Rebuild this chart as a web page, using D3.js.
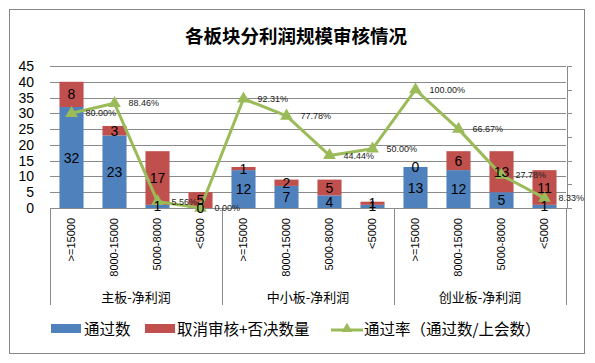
<!DOCTYPE html>
<html><head><meta charset="utf-8">
<script src="https://cdn.jsdelivr.net/npm/d3@7"></script>
<style>
html,body{margin:0;padding:0;background:#fff;}
svg{display:block;}
</style></head>
<body>
<svg id="chart" width="595" height="363"></svg>
<script>
const title = "各板块分利润规模审核情况";
const groups = ["主板-净利润", "中小板-净利润", "创业板-净利润"];
const subCategories = [">=15000", "8000-15000", "5000-8000", "<5000"];
const passed = [32, 23, 1, 0, 12, 7, 4, 1, 13, 12, 5, 1];
const rejected = [8, 3, 17, 5, 1, 2, 5, 1, 0, 6, 13, 11];
const passRate = [0.8, 0.8846, 0.0556, 0, 0.9231, 0.7778, 0.4444, 0.5, 1, 0.6667, 0.2778, 0.0833];
const leftTicks = [0, 5, 10, 15, 20, 25, 30, 35, 40, 45];
const rightTicks = [0, 0.2, 0.4, 0.6, 0.8, 1.0, 1.2];
const legendLabels = ["通过数", "取消审核+否决数量", "通过率（通过数/上会数）"];

const BLUE = "#4F81BD", RED = "#C0504D", GREEN = "#9BBB59", GRID = "#8a8a8a";
const NUM_FONT = "'Liberation Sans', Arial, sans-serif";
const CJK_FONT = "'Noto Sans CJK SC', 'Noto Sans', sans-serif";

const svg = d3.select("#chart");
svg.append("rect").attr("x", 9.5).attr("y", 9.5).attr("width", 575).attr("height", 344)
  .attr("fill", "#fff").attr("stroke", "#868686").attr("stroke-width", 1);

const keys = groups.flatMap((g, gi) => subCategories.map((s, si) => gi * subCategories.length + si));
const x = d3.scaleBand().domain(keys).range([50, 566]).paddingInner(0.44).paddingOuter(0.22);
const y = d3.scaleLinear().domain([0, 45]).range([208, 66]);
const y2 = d3.scaleLinear().domain([0, 1.2]).range([208, 66]);

// gridlines
const grid = svg.append("g").attr("transform", "translate(50,0)")
  .call(d3.axisLeft(y).tickValues(leftTicks.slice(1)).tickSize(-516).tickFormat(""));
grid.select(".domain").remove();
grid.selectAll("line").attr("stroke", GRID).attr("shape-rendering", "crispEdges");

// left tick labels
const la = svg.append("g").attr("transform", "translate(50,0)")
  .call(d3.axisLeft(y).tickValues(leftTicks).tickSize(0).tickPadding(16));
la.select(".domain").remove();
la.selectAll("text").attr("font-family", NUM_FONT).attr("font-size", 14).attr("fill", "#000");

// bars
const data = keys.map(k => ({k, p: passed[k], r: rejected[k], rate: passRate[k]}));
const bars = svg.append("g");
bars.selectAll(".pb").data(data).join("rect")
  .attr("x", d => x(d.k)).attr("width", x.bandwidth())
  .attr("y", d => y(d.p)).attr("height", d => y(0) - y(d.p)).attr("fill", BLUE);
bars.selectAll(".rb").data(data).join("rect")
  .attr("x", d => x(d.k)).attr("width", x.bandwidth())
  .attr("y", d => y(d.p + d.r)).attr("height", d => y(d.p) - y(d.p + d.r)).attr("fill", RED);

// x axis line
svg.append("line").attr("x1", 50).attr("x2", 571).attr("y1", 208.5).attr("y2", 208.5)
  .attr("stroke", GRID);

// right axis
const ra = svg.append("g").attr("transform", "translate(566.5,0)")
  .call(d3.axisRight(y2).tickValues(rightTicks).tickSize(5).tickSizeOuter(0).tickFormat(""));
ra.selectAll("line, path").attr("stroke", GRID).attr("shape-rendering", "crispEdges");

// group separators
const step = x.step();
for (let i = 0; i <= groups.length; i++) {
  const xx = Math.round(x.range()[0] + i * subCategories.length * step) + 0.5;
  svg.append("line").attr("x1", xx).attr("x2", xx).attr("y1", 208).attr("y2", 305)
    .attr("stroke", GRID);
}

// sub-category labels
svg.append("g").selectAll("text").data(data).join("text")
  .attr("transform", d => `translate(${x(d.k) + x.bandwidth() / 2},218) rotate(-90)`)
  .attr("text-anchor", "end").attr("dy", "0.35em")
  .attr("font-family", NUM_FONT).attr("font-size", 11).attr("fill", "#000")
  .text(d => subCategories[d.k % subCategories.length]);

// group labels
svg.append("g").selectAll("text").data(groups).join("text")
  .attr("x", (g, i) => x.range()[0] + (i + 0.5) * subCategories.length * step)
  .attr("y", 302).attr("text-anchor", "middle")
  .attr("font-family", CJK_FONT).attr("font-size", 13).attr("fill", "#000")
  .text(g => g);

// line
const line = d3.line().x(d => x(d.k) + x.bandwidth() / 2).y(d => y2(d.rate));
svg.append("path").datum(data).attr("d", line).attr("fill", "none")
  .attr("stroke", GREEN).attr("stroke-width", 3).attr("stroke-linejoin", "round");
const tri = d3.symbol().type(d3.symbolTriangle).size(70);
svg.append("g").selectAll("path").data(data).join("path")
  .attr("d", tri).attr("fill", GREEN)
  .attr("transform", d => `translate(${x(d.k) + x.bandwidth() / 2},${y2(d.rate)})`);

// bar value labels
const lab = svg.append("g").attr("font-family", NUM_FONT).attr("font-size", 14)
  .attr("fill", "#000").attr("text-anchor", "middle");
lab.selectAll(".pl").data(data).join("text")
  .attr("x", d => x(d.k) + x.bandwidth() / 2).attr("y", d => (y(0) + y(d.p)) / 2)
  .attr("dy", "0.36em").text(d => d.p);
lab.selectAll(".rl").data(data).join("text")
  .attr("x", d => x(d.k) + x.bandwidth() / 2).attr("y", d => (y(d.p) + y(d.p + d.r)) / 2)
  .attr("dy", "0.36em").text(d => d.r);

// rate labels
const fmt = d3.format(".2%");
svg.append("g").selectAll("text").data(data).join("text")
  .attr("x", d => x(d.k) + x.bandwidth() / 2 + 14).attr("y", d => y2(d.rate))
  .attr("dy", "0.35em").attr("font-family", NUM_FONT).attr("font-size", 9).attr("fill", "#222")
  .text(d => fmt(d.rate));

// title
svg.append("text").attr("x", 296).attr("y", 43).attr("text-anchor", "middle")
  .attr("font-family", CJK_FONT).attr("font-weight", 700).attr("font-size", 18.5)
  .attr("fill", "#000").text(title);

// legend
const lg = svg.append("g").attr("font-family", CJK_FONT).attr("font-size", 15.5).attr("fill", "#000");
lg.append("rect").attr("x", 51).attr("y", 324).attr("width", 30).attr("height", 9).attr("fill", BLUE);
lg.append("text").attr("x", 84).attr("y", 329).attr("dy", "0.36em").text(legendLabels[0]);
lg.append("rect").attr("x", 145).attr("y", 324).attr("width", 30).attr("height", 9).attr("fill", RED);
lg.append("text").attr("x", 177).attr("y", 329).attr("dy", "0.36em").text(legendLabels[1]);
lg.append("line").attr("x1", 331).attr("x2", 363).attr("y1", 330).attr("y2", 330)
  .attr("stroke", GREEN).attr("stroke-width", 3);
lg.append("path").attr("d", d3.symbol().type(d3.symbolTriangle).size(50)())
  .attr("transform", "translate(347,329)").attr("fill", GREEN);
lg.append("text").attr("x", 364).attr("y", 329).attr("dy", "0.36em").text(legendLabels[2]);
</script>
</body></html>
